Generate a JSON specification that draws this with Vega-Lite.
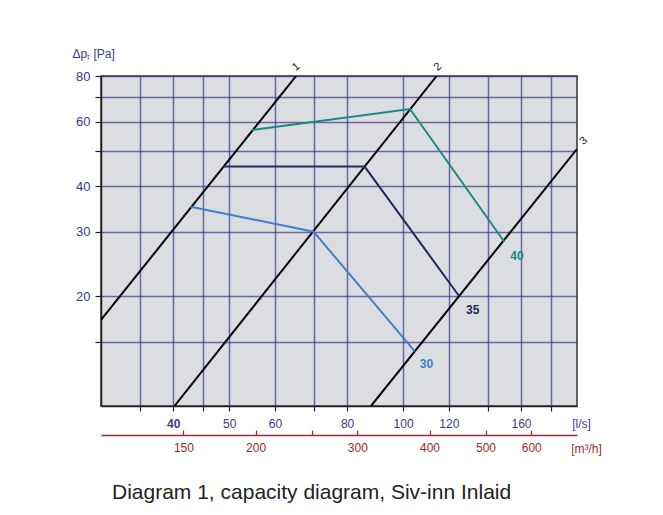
{
  "$schema": "https://vega.github.io/schema/vega-lite/v6.json",
  "width": 476,
  "height": 330,
  "autosize": {"type": "none"},
  "padding": {"left": 101, "top": 76, "right": 86, "bottom": 109},
  "background": "white",
  "config": {
    "font": "Liberation Sans",
    "view": {"fill": "#dcdde0", "stroke": "#333333", "strokeWidth": 1.5}
  },
  "title": {
    "text": "Diagram 1, capacity diagram, Siv-inn Inlaid",
    "orient": "bottom",
    "anchor": "start",
    "frame": "group",
    "dx": 11,
    "offset": 28,
    "fontSize": 21,
    "fontWeight": "normal",
    "color": "#222222",
    "font": "Liberation Sans"
  },
  "datasets": {
    "curves": [
      {"curve": "1", "q": 30, "p": 17.2, "pt": 1},
      {"curve": "1", "q": 65.3, "p": 80, "pt": 2},
      {"curve": "2", "q": 40.2, "p": 10, "pt": 1},
      {"curve": "2", "q": 114.3, "p": 80, "pt": 2},
      {"curve": "3", "q": 88, "p": 10, "pt": 1},
      {"curve": "3", "q": 200, "p": 50.5, "pt": 2}
    ],
    "flows": [
      {"size": "30", "q": 42.9, "p": 35.1, "pt": 1},
      {"size": "30", "q": 70, "p": 30, "pt": 2},
      {"size": "30", "q": 104.8, "p": 14.1, "pt": 3},
      {"size": "35", "q": 48.8, "p": 45.2, "pt": 1},
      {"size": "35", "q": 85.8, "p": 45.2, "pt": 2},
      {"size": "35", "q": 125, "p": 20, "pt": 3},
      {"size": "40", "q": 54.7, "p": 56.9, "pt": 1},
      {"size": "40", "q": 102.8, "p": 65, "pt": 2},
      {"size": "40", "q": 149.8, "p": 28.1, "pt": 3}
    ],
    "sizeLabels": [
      {"size": "30", "q": 109.8, "p": 13.0},
      {"size": "35", "q": 132, "p": 18.3},
      {"size": "40", "q": 157.4, "p": 25.8}
    ],
    "curveLabels": [
      {"label": "1", "q": 65.3, "p": 84.7},
      {"label": "2", "q": 114.9, "p": 84.7},
      {"label": "3", "q": 205.3, "p": 53.1}
    ]
  },
  "layer": [
    {
      "data": {"name": "curves"},
      "mark": {"type": "line", "color": "#000000", "strokeWidth": 2, "clip": true},
      "encoding": {
        "x": {
          "field": "q", "type": "quantitative",
          "scale": {"type": "log", "domain": [30, 200], "nice": false},
          "axis": {
            "values": [35, 40, 45, 50, 60, 70, 80, 100, 120, 140, 160, 180],
            "labelExpr": "datum.value==35||datum.value==45||datum.value==70||datum.value==140||datum.value==180 ? '' : datum.label",
            "grid": true, "gridColor": "#34348a", "gridOpacity": 0.7, "gridWidth": 1.5,
            "domainColor": "#222222", "domainWidth": 1.5,
            "tickColor": "#222222", "tickSize": 5, "tickWidth": 1.2,
            "labelColor": "#3a3a8a", "labelFontSize": 12, "labelPadding": 7,
            "labelFontWeight": {"condition": {"test": "datum.value == 40", "value": "bold"}, "value": "normal"},
            "labelFlush": false, "labelOverlap": false,
            "title": "[l/s]", "titleX": 480, "titleY": 17, "titleAngle": 0,
            "titleAlign": "center", "titleBaseline": "middle",
            "titleFontWeight": "normal", "titleFontSize": 12, "titleColor": "#3a3a8a"
          }
        },
        "y": {
          "field": "p", "type": "quantitative",
          "scale": {"type": "log", "domain": [10, 80], "nice": false},
          "axis": {
            "values": [15, 20, 30, 40, 50, 60, 70, 80],
            "labelExpr": "datum.value==15||datum.value==50||datum.value==70 ? '' : datum.label",
            "grid": true, "gridColor": "#34348a", "gridOpacity": 0.7, "gridWidth": 1.5,
            "domainColor": "#222222", "domainWidth": 1.5,
            "tickColor": "#222222", "tickSize": 6, "tickWidth": 1.2,
            "labelColor": "#3a3a8a", "labelFontSize": 13, "labelPadding": 5,
            "labelFlush": false, "labelOverlap": false,
            "title": "Δpₜ [Pa]", "titleX": -29, "titleY": -23, "titleAngle": 0,
            "titleAlign": "left", "titleBaseline": "middle",
            "titleFontWeight": "normal", "titleFontSize": 12, "titleColor": "#3a3a8a"
          }
        },
        "detail": {"field": "curve"},
        "order": {"field": "pt"}
      }
    },
    {
      "data": {"name": "flows"},
      "mark": {"type": "line", "strokeWidth": 2},
      "encoding": {
        "x": {"field": "q", "type": "quantitative", "axis": null},
        "y": {"field": "p", "type": "quantitative", "axis": null},
        "color": {"field": "size", "type": "nominal", "scale": {"domain": ["30", "35", "40"], "range": ["#3f7fcf", "#262660", "#178a82"]}, "legend": null},
        "order": {"field": "pt"}
      }
    },
    {
      "data": {"name": "sizeLabels"},
      "mark": {"type": "text", "fontWeight": "bold", "fontSize": 12, "align": "center", "baseline": "middle"},
      "encoding": {
        "x": {"field": "q", "type": "quantitative", "axis": null},
        "y": {"field": "p", "type": "quantitative", "axis": null},
        "text": {"field": "size"},
        "color": {"field": "size", "type": "nominal", "legend": null}
      }
    },
    {
      "data": {"name": "curveLabels"},
      "mark": {"type": "text", "fontSize": 11, "angle": -40, "align": "center", "baseline": "middle", "color": "#222222"},
      "encoding": {
        "x": {"field": "q", "type": "quantitative", "axis": null},
        "y": {"field": "p", "type": "quantitative", "axis": null},
        "text": {"field": "label"}
      }
    },
    {
      "data": {"name": "flows"},
      "mark": {"type": "point", "opacity": 0},
      "encoding": {
        "x": {
          "field": "q", "type": "quantitative",
          "axis": {
            "orient": "bottom", "offset": 29,
            "values": [41.6667, 55.5556, 69.4444, 83.3333, 111.111, 138.889, 166.667],
            "labelExpr": "datum.value > 69 && datum.value < 70 ? '' : format(datum.value*3.6, '.0f')",
            "grid": false,
            "domainColor": "#9b2b2b", "domainWidth": 1.5,
            "tickColor": "#9b2b2b", "tickSize": -5, "tickWidth": 1.2,
            "labelColor": "#9b2b2b", "labelFontSize": 12, "labelPadding": 12,
            "labelFlush": false, "labelOverlap": false,
            "title": "[m³/h]", "titleX": 485, "titleY": 13, "titleAngle": 0,
            "titleAlign": "center", "titleBaseline": "middle",
            "titleFontWeight": "normal", "titleFontSize": 12, "titleColor": "#9b2b2b"
          }
        },
        "y": {"field": "p", "type": "quantitative", "axis": null}
      }
    }
  ],
  "resolve": {"axis": {"x": "independent", "y": "independent"}}
}
